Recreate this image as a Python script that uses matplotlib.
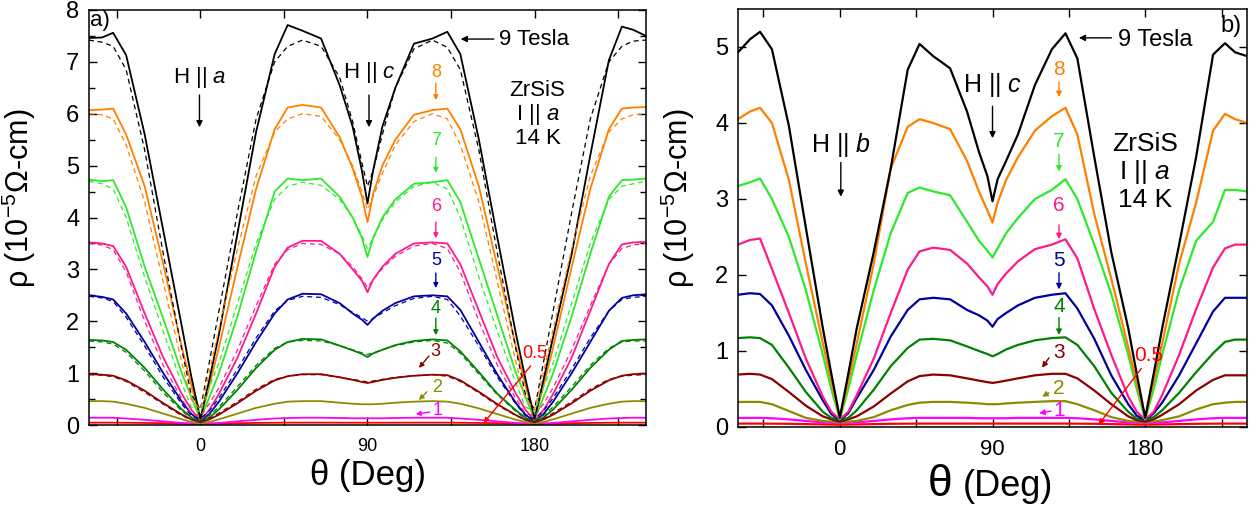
import matplotlib
matplotlib.use('Agg')
import matplotlib.pyplot as plt
from matplotlib.ticker import MultipleLocator

plt.rcParams['font.family'] = ['Liberation Sans', 'DejaVu Sans']
plt.rcParams['mathtext.fontset'] = 'custom'
plt.rcParams['mathtext.rm'] = 'Liberation Sans'
plt.rcParams['mathtext.it'] = 'Liberation Sans:italic'
plt.rcParams['mathtext.bf'] = 'Liberation Sans:bold'

# angle grid (deg), shared by every curve
theta = [-60, -53, -47, -40, -30, -20, -10, -5, 0, 5, 10, 20, 30, 40, 47, 55, 65, 75, 82, 87,
         90, 93, 98, 105, 115, 125, 133, 140, 150, 160, 170, 175, 180, 185, 190, 200, 210, 220,
         227, 233, 240]

fields = ['9', '8', '7', '6', '5', '4', '3', '2', '1', '0.5']
colors = ['#000000', '#ff8000', '#2ee82e', '#ff1a8c', '#0000a0', '#008000', '#8b0000',
          '#8b8b00', '#ff00ff', '#ff0000']

# ---- panel a) : measured (solid) and fitted (dashed), units 1e-5 Ohm-cm ----
a9 = [7.46, 7.47, 7.56, 7.13, 5.6, 3.75, 1.9, 0.95, 0.12, 0.9, 1.75, 3.7, 5.65, 7.15, 7.71, 7.6, 7.45, 6.55, 5.75, 4.9,
      4.27, 4.9, 5.75, 6.5, 7.35, 7.45, 7.58, 7.15, 5.5, 3.6, 1.75, 0.9, 0.12, 0.9, 1.7, 3.3, 5.2, 7.03, 7.68, 7.62, 7.5]
a8 = [6.07, 6.08, 6.1, 5.6, 4.6, 3.1, 1.5, 0.78, 0.12, 0.78, 1.5, 3.05, 4.55, 5.7, 6.12, 6.17, 6.12, 5.55, 4.95, 4.4,
      3.91, 4.45, 5.0, 5.5, 5.98, 6.07, 6.1, 5.7, 4.6, 3.05, 1.5, 0.78, 0.12, 0.78, 1.5, 3.05, 4.55, 5.7, 6.1, 6.12, 6.13]
a7 = [4.73, 4.7, 4.72, 4.2, 3.05, 2.05, 1.0, 0.55, 0.1, 0.55, 1.0, 2.1, 3.35, 4.5, 4.75, 4.72, 4.75, 4.4, 4.0, 3.6,
      3.24, 3.6, 4.0, 4.35, 4.65, 4.68, 4.72, 4.3, 3.2, 2.1, 1.0, 0.55, 0.1, 0.55, 1.0, 2.1, 3.3, 4.4, 4.72, 4.73, 4.75]
a6 = [3.52, 3.5, 3.45, 3.05, 2.15, 1.3, 0.6, 0.3, 0.08, 0.3, 0.6, 1.3, 2.15, 3.05, 3.42, 3.55, 3.55, 3.3, 3.0, 2.78,
      2.56, 2.8, 3.05, 3.3, 3.5, 3.52, 3.5, 3.1, 2.2, 1.3, 0.6, 0.3, 0.08, 0.3, 0.6, 1.3, 2.2, 3.1, 3.48, 3.52, 3.53]
a5 = [2.5, 2.47, 2.42, 2.15, 1.6, 1.0, 0.45, 0.22, 0.07, 0.22, 0.45, 1.0, 1.6, 2.15, 2.42, 2.53, 2.52, 2.35, 2.15, 2.03,
      1.93, 2.05, 2.2, 2.35, 2.48, 2.5, 2.48, 2.22, 1.6, 0.97, 0.42, 0.2, 0.07, 0.22, 0.45, 1.0, 1.6, 2.2, 2.45, 2.5, 2.52]
a4 = [1.64, 1.63, 1.6, 1.45, 1.1, 0.68, 0.3, 0.15, 0.06, 0.15, 0.3, 0.68, 1.1, 1.45, 1.6, 1.66, 1.65, 1.53, 1.44, 1.37,
      1.31, 1.38, 1.45, 1.54, 1.62, 1.65, 1.63, 1.42, 1.02, 0.6, 0.28, 0.14, 0.06, 0.15, 0.3, 0.68, 1.1, 1.45, 1.62, 1.64, 1.65]
a3 = [0.98, 0.97, 0.95, 0.86, 0.66, 0.42, 0.2, 0.11, 0.05, 0.11, 0.2, 0.42, 0.66, 0.86, 0.94, 0.98, 0.98, 0.92, 0.87, 0.83,
      0.81, 0.83, 0.87, 0.91, 0.95, 0.97, 0.96, 0.86, 0.64, 0.4, 0.19, 0.1, 0.05, 0.11, 0.2, 0.42, 0.66, 0.86, 0.95, 0.98, 0.99]
a2 = [0.46, 0.46, 0.45, 0.41, 0.33, 0.22, 0.11, 0.06, 0.03, 0.06, 0.11, 0.22, 0.33, 0.41, 0.45, 0.46, 0.46, 0.43, 0.41, 0.4,
      0.4, 0.4, 0.41, 0.43, 0.45, 0.46, 0.45, 0.41, 0.32, 0.21, 0.1, 0.06, 0.03, 0.06, 0.11, 0.22, 0.33, 0.41, 0.45, 0.46, 0.46]
a1 = [0.14, 0.14, 0.14, 0.125, 0.1, 0.07, 0.04, 0.03, 0.02, 0.03, 0.04, 0.07, 0.1, 0.125, 0.135, 0.14, 0.14, 0.135, 0.13, 0.13,
      0.13, 0.13, 0.13, 0.135, 0.14, 0.14, 0.14, 0.125, 0.1, 0.07, 0.04, 0.03, 0.02, 0.03, 0.04, 0.07, 0.1, 0.125, 0.135, 0.14, 0.14]
a05 = [0.045, 0.045, 0.045, 0.043, 0.04, 0.035, 0.028, 0.024, 0.02, 0.024, 0.028, 0.035, 0.04, 0.043, 0.045, 0.045, 0.045, 0.045, 0.044, 0.044,
       0.044, 0.044, 0.044, 0.045, 0.045, 0.045, 0.045, 0.043, 0.04, 0.035, 0.028, 0.024, 0.02, 0.024, 0.028, 0.035, 0.04, 0.043, 0.045, 0.045, 0.045]

a9_fit = [7.42, 7.38, 7.3, 6.85, 5.3, 3.3, 1.45, 0.6, 0.3, 1.25, 2.2, 4.1, 5.9, 7.0, 7.3, 7.42, 7.3, 6.7, 5.85, 5.05,
          4.6, 4.9, 5.6, 6.5, 7.25, 7.42, 7.28, 6.85, 5.3, 3.3, 1.45, 0.6, 0.3, 1.25, 2.2, 4.1, 5.9, 7.0, 7.3, 7.4, 7.42]
a8_fit = [6.0, 5.98, 5.9, 5.4, 4.3, 2.75, 1.2, 0.5, 0.3, 1.05, 1.85, 3.4, 4.8, 5.65, 5.9, 6.0, 5.95, 5.5, 5.0, 4.5,
          4.15, 4.4, 4.85, 5.4, 5.85, 6.0, 5.9, 5.4, 4.3, 2.75, 1.2, 0.5, 0.3, 1.05, 1.85, 3.4, 4.8, 5.65, 5.9, 5.98, 6.0]
a7_fit = [4.7, 4.65, 4.55, 4.0, 2.85, 1.8, 0.8, 0.35, 0.25, 0.75, 1.2, 2.35, 3.5, 4.35, 4.6, 4.68, 4.62, 4.35, 4.0, 3.65,
          3.4, 3.6, 3.95, 4.3, 4.6, 4.68, 4.55, 4.0, 2.85, 1.8, 0.8, 0.35, 0.25, 0.75, 1.2, 2.35, 3.5, 4.35, 4.6, 4.65, 4.7]
a6_fit = [3.5, 3.47, 3.38, 2.95, 2.0, 1.15, 0.5, 0.22, 0.18, 0.42, 0.72, 1.45, 2.3, 3.1, 3.38, 3.5, 3.48, 3.3, 3.05, 2.82,
          2.65, 2.8, 3.02, 3.25, 3.45, 3.5, 3.4, 2.95, 2.0, 1.15, 0.5, 0.22, 0.18, 0.42, 0.72, 1.45, 2.3, 3.1, 3.4, 3.47, 3.5]
a5_fit = [2.48, 2.45, 2.38, 2.08, 1.52, 0.92, 0.4, 0.18, 0.12, 0.28, 0.52, 1.08, 1.68, 2.2, 2.4, 2.48, 2.46, 2.32, 2.17, 2.07,
          2.0, 2.05, 2.16, 2.3, 2.44, 2.48, 2.42, 2.1, 1.52, 0.92, 0.4, 0.18, 0.12, 0.28, 0.52, 1.08, 1.68, 2.2, 2.42, 2.46, 2.48]
a4_fit = [1.62, 1.6, 1.56, 1.4, 1.04, 0.62, 0.27, 0.13, 0.09, 0.19, 0.35, 0.74, 1.15, 1.48, 1.6, 1.63, 1.62, 1.53, 1.45, 1.39,
          1.36, 1.39, 1.45, 1.53, 1.6, 1.63, 1.58, 1.38, 0.98, 0.58, 0.26, 0.12, 0.09, 0.19, 0.35, 0.74, 1.15, 1.48, 1.6, 1.62, 1.62]
a3_fit = [0.97, 0.96, 0.93, 0.84, 0.63, 0.4, 0.18, 0.1, 0.07, 0.13, 0.23, 0.45, 0.69, 0.88, 0.94, 0.97, 0.97, 0.92, 0.88, 0.85,
          0.83, 0.85, 0.88, 0.92, 0.95, 0.97, 0.94, 0.84, 0.62, 0.38, 0.18, 0.1, 0.07, 0.13, 0.23, 0.45, 0.69, 0.88, 0.94, 0.96, 0.97]

# ---- panel b) : measured ----
b9 = [4.93, 5.1, 5.2, 4.97, 3.96, 2.62, 1.3, 0.7, 0.12, 0.7, 1.3, 2.3, 3.4, 4.7, 5.04, 4.88, 4.72, 4.15, 3.62, 3.3,
      2.97, 3.26, 3.5, 3.85, 4.5, 4.97, 5.18, 4.85, 3.55, 2.3, 1.3, 0.7, 0.12, 0.7, 1.3, 2.4, 3.55, 4.9, 5.05, 4.93, 4.88]
b8 = [4.05, 4.15, 4.2, 4.0, 3.25, 2.15, 1.1, 0.6, 0.12, 0.6, 1.1, 2.15, 3.4, 3.95, 4.05, 4.0, 3.92, 3.5, 3.1, 2.85,
      2.69, 2.95, 3.25, 3.55, 3.9, 4.09, 4.2, 3.85, 2.8, 1.95, 1.05, 0.58, 0.12, 0.6, 1.1, 2.15, 2.95, 3.9, 4.12, 4.05, 4.0]
b7 = [3.17, 3.22, 3.27, 3.0, 2.5, 1.8, 0.95, 0.5, 0.1, 0.5, 0.95, 1.8, 2.55, 3.08, 3.15, 3.1, 3.05, 2.7, 2.45, 2.32,
      2.23, 2.35, 2.55, 2.75, 3.0, 3.12, 3.26, 3.0, 2.4, 1.75, 0.95, 0.5, 0.1, 0.5, 0.95, 1.8, 2.45, 2.7, 3.12, 3.12, 3.1]
b6 = [2.4, 2.46, 2.48, 2.08, 1.5, 0.9, 0.4, 0.2, 0.1, 0.2, 0.42, 0.9, 1.5, 2.07, 2.31, 2.36, 2.33, 2.15, 1.97, 1.85,
      1.74, 1.88, 2.02, 2.18, 2.34, 2.4, 2.47, 2.22, 1.55, 0.95, 0.4, 0.2, 0.1, 0.2, 0.42, 0.95, 1.55, 2.1, 2.35, 2.4, 2.4]
b5 = [1.74, 1.76, 1.75, 1.6, 1.2, 0.75, 0.35, 0.17, 0.09, 0.18, 0.38, 0.75, 1.19, 1.54, 1.68, 1.7, 1.68, 1.54, 1.47, 1.4,
      1.32, 1.42, 1.5, 1.6, 1.7, 1.74, 1.76, 1.56, 1.16, 0.68, 0.3, 0.15, 0.09, 0.18, 0.32, 0.68, 1.1, 1.52, 1.7, 1.7, 1.7]
b4 = [1.17, 1.18, 1.17, 1.08, 0.78, 0.46, 0.2, 0.12, 0.09, 0.12, 0.22, 0.49, 0.8, 1.04, 1.15, 1.16, 1.14, 1.06, 1.0, 0.96,
      0.93, 0.96, 1.02, 1.08, 1.14, 1.17, 1.18, 1.08, 0.8, 0.45, 0.2, 0.11, 0.09, 0.13, 0.22, 0.45, 0.72, 0.97, 1.12, 1.15, 1.15]
b3 = [0.69, 0.7, 0.69, 0.63, 0.46, 0.28, 0.14, 0.1, 0.07, 0.1, 0.14, 0.27, 0.44, 0.6, 0.67, 0.69, 0.68, 0.64, 0.61, 0.59,
      0.58, 0.59, 0.61, 0.64, 0.68, 0.7, 0.7, 0.64, 0.48, 0.3, 0.14, 0.09, 0.07, 0.1, 0.16, 0.3, 0.48, 0.62, 0.68, 0.68, 0.68]
b2 = [0.33, 0.33, 0.33, 0.3, 0.21, 0.12, 0.08, 0.07, 0.06, 0.07, 0.08, 0.13, 0.22, 0.29, 0.32, 0.33, 0.33, 0.32, 0.31, 0.3,
      0.3, 0.3, 0.31, 0.32, 0.33, 0.34, 0.34, 0.3, 0.22, 0.13, 0.08, 0.07, 0.06, 0.07, 0.09, 0.14, 0.23, 0.3, 0.32, 0.33, 0.33]
b1 = [0.12, 0.12, 0.12, 0.115, 0.1, 0.08, 0.06, 0.055, 0.05, 0.055, 0.06, 0.08, 0.1, 0.115, 0.12, 0.12, 0.12, 0.12, 0.115, 0.115,
      0.115, 0.115, 0.115, 0.12, 0.12, 0.12, 0.12, 0.115, 0.1, 0.08, 0.06, 0.055, 0.05, 0.055, 0.06, 0.08, 0.1, 0.115, 0.12, 0.12, 0.12]
b05 = [0.045, 0.045, 0.045, 0.044, 0.042, 0.038, 0.034, 0.032, 0.03, 0.032, 0.034, 0.038, 0.042, 0.044, 0.045, 0.045, 0.045, 0.045, 0.045, 0.045,
       0.045, 0.045, 0.045, 0.045, 0.045, 0.045, 0.045, 0.044, 0.042, 0.038, 0.034, 0.032, 0.03, 0.032, 0.034, 0.038, 0.042, 0.044, 0.045, 0.045, 0.045]

panel_a = [a9, a8, a7, a6, a5, a4, a3, a2, a1, a05]
panel_a_fit = [a9_fit, a8_fit, a7_fit, a6_fit, a5_fit, a4_fit, a3_fit]
panel_b = [b9, b8, b7, b6, b5, b4, b3, b2, b1, b05]

fig = plt.figure(figsize=(12.53, 5.12), dpi=100)
axa = fig.add_axes([0.07103, 0.16992, 0.44453, 0.81055])
axb = fig.add_axes([0.58899, 0.16602, 0.40623, 0.81641])


def style_axis(ax, ymax, xtick_size, ytick_size, minor_y):
    ax.set_xlim(-60, 240)
    ax.set_ylim(0, ymax)
    ax.set_xticks([-45, 0, 45, 90, 135, 180, 225])
    ax.set_xticklabels(['', '0', '', '90', '', '180', ''])
    ax.set_yticks(range(int(ymax) + 1))
    if minor_y:
        ax.yaxis.set_minor_locator(MultipleLocator(0.5))
    ax.tick_params(which='both', direction='in', top=True, right=True, width=1.0)
    ax.tick_params(which='major', length=6)
    ax.tick_params(which='minor', length=4)
    ax.tick_params(axis='x', labelsize=xtick_size, pad=9)
    ax.tick_params(axis='y', labelsize=ytick_size, pad=7)
    for s in ax.spines.values():
        s.set_linewidth(1.1)


style_axis(axa, 8, 13, 17, True)
style_axis(axb, 5.5, 16, 17, False)

# draw curves, low fields first so high fields sit on top
for vals, c in reversed(list(zip(panel_a, colors))):
    axa.plot(theta, vals, color=c, lw=1.3, solid_joinstyle='round')
for vals, c in zip(panel_a_fit, colors):
    axa.plot(theta, vals, color=c, lw=0.9, ls=(0, (4, 3)))
for vals, c in reversed(list(zip(panel_b, colors))):
    axb.plot(theta, vals, color=c, lw=1.6, solid_joinstyle='round')

# axis labels
ylab = 'ρ (10$^{-5}$Ω-cm)'
axa.set_ylabel(ylab, fontsize=22)
axa.yaxis.set_label_coords(-0.092, 0.547)
axb.set_ylabel(ylab, fontsize=22)
axb.yaxis.set_label_coords(-0.081, 0.547)
fig.text(368 / 1253, 1 - 475 / 512, 'θ (Deg)', fontsize=25, ha='center', va='center')
fig.text(940 / 1253, 1 - 484 / 512, 'θ', fontsize=32, ha='center', va='center')
fig.text(1008 / 1253, 1 - 486 / 512, '(Deg)', fontsize=26, ha='center', va='center')


def arrow(ax, start, end, color, ms=9):
    ax.annotate('', xy=end, xytext=start,
                arrowprops=dict(arrowstyle='-|>', color=color, lw=1.0,
                                mutation_scale=ms, shrinkA=0, shrinkB=0))


# ---- panel a annotations ----
axa.text(-59.2, 7.8, 'a)', fontsize=16, ha='left', va='center')
axa.text(-0.5, 6.7, 'H || $a$', fontsize=16, ha='center', va='center')
arrow(axa, (-0.5, 6.36), (-0.5, 5.74), 'k')
axa.text(91.3, 6.8, 'H || $c$', fontsize=16, ha='center', va='center')
arrow(axa, (90.8, 6.36), (90.8, 5.74), 'k')
axa.text(160.7, 7.44, '9 Tesla', fontsize=16, ha='left', va='center')
arrow(axa, (158, 7.44), (140.2, 7.44), 'k')
axa.text(181.6, 5.99, 'ZrSiS\nI || $a$\n14 K', fontsize=16, ha='center', va='center',
         linespacing=1.05)

lab_a = [('8', 6.8, (6.59, 6.26)), ('7', 5.49, (5.16, 4.86)), ('6', 4.22, (3.91, 3.6)),
         ('5', 3.18, (2.93, 2.64)), ('4', 2.24, (2.06, 1.73))]
for (txt, yv, (y0, y1)), c in zip(lab_a, colors[1:6]):
    axa.text(126.8, yv, txt, fontsize=13, color=c, ha='center', va='center')
    arrow(axa, (126.8, y0), (126.8, y1), c, 7)
axa.text(126.3, 1.41, '3', fontsize=13, color=colors[6], ha='center', va='center')
arrow(axa, (123.1, 1.33), (117.7, 1.1), colors[6], 7)
axa.text(127.3, 0.73, '2', fontsize=13, color=colors[7], ha='center', va='center')
arrow(axa, (122.0, 0.64), (117.7, 0.48), colors[7], 7)
axa.text(127.8, 0.27, '1', fontsize=13, color=colors[8], ha='center', va='center')
arrow(axa, (123.6, 0.25), (116.0, 0.21), colors[8], 7)
axa.text(180.0, 1.37, '0.5', fontsize=13, color=colors[9], ha='center', va='center')
arrow(axa, (177.9, 1.14), (152.6, 0.04), colors[9], 7)

# ---- panel b annotations ----
axb.text(237.0, 5.28, 'b)', fontsize=17, ha='right', va='center')
axb.text(185.9, 5.09, '9 Tesla', fontsize=17, ha='center', va='center')
arrow(axb, (160.1, 5.12), (140.9, 5.12), 'k')
axb.text(90.0, 4.5, 'H || $c$', fontsize=18, ha='center', va='center')
arrow(axb, (90.0, 4.22), (90.0, 3.8), 'k')
axb.text(0.6, 3.71, 'H || $b$', fontsize=18, ha='center', va='center')
arrow(axb, (0.6, 3.48), (0.6, 3.03), 'k')
axb.text(180.0, 3.36, 'ZrSiS\nI || $a$\n14 K', fontsize=19, ha='center', va='center',
         linespacing=1.1)

lab_b = [('8', 4.7, (4.54, 4.34)), ('7', 3.76, (3.59, 3.36)), ('6', 2.92, (2.66, 2.47)),
         ('5', 2.19, (2.03, 1.81)), ('4', 1.58, (1.44, 1.21))]
for (txt, yv, (y0, y1)), c in zip(lab_b, colors[1:6]):
    axb.text(129.2, yv, txt, fontsize=15, color=c, ha='center', va='center')
    arrow(axb, (129.2, y0), (129.2, y1), c, 8)
axb.text(129.2, 0.98, '3', fontsize=15, color=colors[6], ha='center', va='center')
arrow(axb, (123.3, 0.91), (119.2, 0.78), colors[6], 8)
axb.text(129.2, 0.51, '2', fontsize=15, color=colors[7], ha='center', va='center')
arrow(axb, (123.3, 0.45), (119.2, 0.40), colors[7], 8)
axb.text(129.2, 0.22, '1', fontsize=15, color=colors[8], ha='center', va='center')
arrow(axb, (124.5, 0.21), (117.5, 0.18), colors[8], 8)
axb.text(181.8, 0.94, '0.5', fontsize=15, color=colors[9], ha='center', va='center')
arrow(axb, (177.7, 0.77), (152.5, 0.03), colors[9], 8)

fig.savefig('out.png', dpi=100)
